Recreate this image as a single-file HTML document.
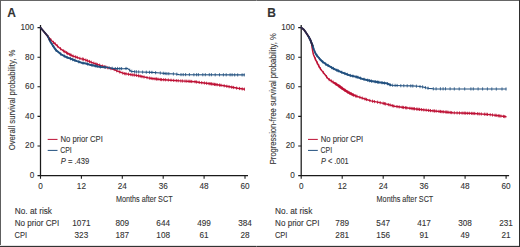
<!DOCTYPE html>
<html><head><meta charset="utf-8"><style>
html,body{margin:0;padding:0;background:#fff;}
body{width:520px;height:247px;overflow:hidden;position:relative;}
svg{position:absolute;left:0;top:0;}
text{font-family:"Liberation Sans",sans-serif;fill:#333333;stroke:#333;stroke-width:0.1px;}
</style></head><body>
<svg width="520" height="247" viewBox="0 0 520 247">
<rect x="0" y="0" width="520" height="247" fill="#fff"/>
<text x="7.3" y="17.2" font-size="12.00" text-anchor="start" font-weight="bold" font-style="normal" fill="#111" stroke="#111" stroke-width="0.35">A</text>
<path d="M40.5,25 V176.2 M39.9,175.6 H248.0" stroke="#1a1a1a" stroke-width="1.25" fill="none"/>
<text x="34.2" y="178.0" font-size="8.20" text-anchor="end" font-weight="normal" font-style="normal" >0</text>
<text x="34.2" y="148.4" font-size="8.20" text-anchor="end" font-weight="normal" font-style="normal" >20</text>
<text x="34.2" y="118.8" font-size="8.20" text-anchor="end" font-weight="normal" font-style="normal" >40</text>
<text x="34.2" y="89.2" font-size="8.20" text-anchor="end" font-weight="normal" font-style="normal" >60</text>
<text x="34.2" y="59.6" font-size="8.20" text-anchor="end" font-weight="normal" font-style="normal" >80</text>
<text x="34.2" y="30.0" font-size="8.20" text-anchor="end" font-weight="normal" font-style="normal" >100</text>
<text x="40.5" y="188.9" font-size="8.20" text-anchor="middle" font-weight="normal" font-style="normal" >0</text>
<text x="81.4" y="188.9" font-size="8.20" text-anchor="middle" font-weight="normal" font-style="normal" >12</text>
<text x="122.3" y="188.9" font-size="8.20" text-anchor="middle" font-weight="normal" font-style="normal" >24</text>
<text x="163.2" y="188.9" font-size="8.20" text-anchor="middle" font-weight="normal" font-style="normal" >36</text>
<text x="204.1" y="188.9" font-size="8.20" text-anchor="middle" font-weight="normal" font-style="normal" >48</text>
<text x="245.0" y="188.9" font-size="8.20" text-anchor="middle" font-weight="normal" font-style="normal" >60</text>
<path d="M37.5,175.6H40.5 M37.5,146.0H40.5 M37.5,116.4H40.5 M37.5,86.8H40.5 M37.5,57.2H40.5 M37.5,27.6H40.5 M40.5,175.6V178.8 M81.4,175.6V178.8 M122.3,175.6V178.8 M163.2,175.6V178.8 M204.1,175.6V178.8 M245.0,175.6V178.8" stroke="#1a1a1a" stroke-width="1.1" fill="none"/>
<text x="115.9" y="201.7" font-size="9.60" text-anchor="start" font-weight="normal" font-style="normal" textLength="56.7" lengthAdjust="spacingAndGlyphs" >Months after SCT</text>
<text transform="translate(15.2,150.3) rotate(-90)" font-size="9.6" textLength="100.7" lengthAdjust="spacingAndGlyphs">Overall survival probability, %</text>
<path d="M40.5,27.6 L43.8,31.5 L47.7,36.2 L51.7,40.8 L55.6,44.3 L59.5,48.0 L63.4,50.8 L67.0,53.0 L72.7,56.0 L77.0,57.4 L80.4,58.6 L84.0,59.4 L85.8,60.1 L89.7,61.6 L93.5,63.1 L97.4,64.5 L101.0,65.6 L106.7,67.4 L114.4,69.6 L118.0,71.3 L123.7,73.4 L131.4,74.7 L135.0,75.1 L140.7,76.3 L148.4,77.9 L152.0,78.5 L160.5,79.5 L171.0,80.2 L176.0,80.6 L184.5,81.1 L195.0,81.7 L200.0,82.5 L208.5,83.5 L219.0,85.0 L224.0,85.8 L232.5,87.3 L237.8,88.3 L244.8,89.3" stroke="#bd1034" stroke-width="1.45" fill="none" stroke-linejoin="round"/>
<path d="M48.5,35.5v3.2 M50.8,38.2v3.2 M53.5,40.8v3.2 M55.2,42.3v3.2 M57.4,44.4v3.2 M60.5,47.1v3.2 M63.6,49.3v3.2 M64.9,50.1v3.2 M66.5,51.1v3.2 M67.7,51.8v3.2 M69.8,52.9v3.2 M71.0,53.5v3.2 M73.1,54.5v3.2 M75.6,55.3v3.2 M77.3,55.9v3.2 M79.9,56.8v3.2 M82.3,57.4v3.2 M83.4,57.7v3.2 M85.8,58.5v3.2 M87.4,59.1v3.2 M89.5,59.9v3.2 M91.2,60.6v3.2 M93.8,61.6v3.2 M95.9,62.3v3.2 M97.3,62.9v3.2 M99.6,63.6v3.2 M102.4,64.5v3.2 M104.2,65.0v3.2 M105.8,65.5v3.2 M107.7,66.1v3.2 M110.9,67.0v3.2 M114.2,67.9v3.2 M116.7,69.1v3.2 M119.8,70.4v3.2 M122.8,71.5v3.2 M124.7,72.0v3.2 M126.0,72.2v3.2 M128.5,72.6v3.2 M130.9,73.0v3.2 M132.8,73.3v3.2 M134.4,73.4v3.2 M136.4,73.8v3.2 M138.5,74.2v3.2 M140.2,74.6v3.2 M141.9,75.0v3.2 M144.0,75.4v3.2 M147.0,76.0v3.2 M149.4,76.5v3.2 M151.1,76.8v3.2 M152.9,77.0v3.2 M155.0,77.2v3.2 M156.5,77.4v3.2 M158.0,77.6v3.2 M160.3,77.9v3.2 M161.6,78.0v3.2 M163.7,78.1v3.2 M165.6,78.2v3.2 M168.3,78.4v3.2 M171.0,78.6v3.2 M173.7,78.8v3.2 M176.3,79.0v3.2 M178.2,79.1v3.2 M180.8,79.3v3.2 M182.6,79.4v3.2 M185.0,79.5v3.2 M186.8,79.6v3.2 M188.9,79.7v3.2 M190.1,79.8v3.2 M191.7,79.9v3.2 M195.0,80.1v3.2 M196.6,80.4v3.2 M199.2,80.8v3.2 M201.7,81.1v3.2 M204.4,81.4v3.2 M206.6,81.7v3.2 M209.0,82.0v3.2 M210.2,82.1v3.2 M211.5,82.3v3.2 M213.0,82.5v3.2 M214.5,82.8v3.2 M215.8,82.9v3.2 M217.2,83.1v3.2 M219.5,83.5v3.2 M221.0,83.7v3.2 M224.2,84.2v3.2 M226.8,84.7v3.2 M229.1,85.1v3.2 M231.7,85.6v3.2 M233.4,85.9v3.2 M236.6,86.5v3.2 M239.5,86.9v3.2 M242.2,87.3v3.2 M244.4,87.6v3.2" stroke="#bd1034" stroke-width="0.9" fill="none" opacity="0.9"/>
<path d="M40.5,27.6 L43.8,31.5 L47.7,36.2 L49.5,39.8 L50.5,42.0 L52.0,44.3 L54.2,47.6 L56.0,50.2 L58.0,51.8 L61.3,54.5 L66.5,57.2 L71.8,59.2 L77.0,61.2 L82.0,62.9 L85.8,63.5 L89.7,64.7 L93.5,65.5 L97.4,66.4 L101.0,67.0 L106.7,67.4 L114.4,68.6 L118.0,68.5 L123.7,68.7 L127.5,68.4 L131.0,71.2 L135.0,71.7 L140.7,72.0 L152.0,72.4 L160.5,73.0 L165.8,73.6 L176.0,74.0 L179.0,74.6 L244.8,74.9" stroke="#22507f" stroke-width="1.15" fill="none" stroke-linejoin="round"/>
<path d="M49.5,39.8 L50.5,42.0 L52.0,44.3 L54.2,47.6 L56.0,50.2 L58.0,51.8 L61.3,54.5 L66.5,57.2 L71.8,59.2 L77.0,61.2 L82.0,62.9 L85.8,63.5 L89.7,64.7 L93.5,65.5 L97.4,66.4 L101.0,67.0 L106.7,67.4" stroke="#22507f" stroke-width="1.9" fill="none" stroke-linejoin="round"/>
<path d="M40.5,27.6 L43.8,31.5 L47.7,36.2 L49.5,39.8" stroke="#2a2848" stroke-width="1.9" fill="none" stroke-linejoin="round" stroke-linecap="round"/>
<path d="M48.5,36.2v3.2 M52.5,43.4v3.2 M56.2,48.8v3.2 M60.7,52.4v3.2 M64.3,54.5v3.2 M67.1,55.8v3.2 M70.5,57.1v3.2 M72.7,58.0v3.2 M74.9,58.8v3.2 M78.9,60.2v3.2 M83.0,61.5v3.2 M87.7,62.5v3.2 M92.0,63.6v3.2 M95.3,64.3v3.2 M97.2,64.8v3.2 M100.4,65.3v3.2 M105.0,65.7v3.2 M109.1,66.2v3.2 M112.2,66.7v3.2 M115.3,67.0v3.2 M117.6,66.9v3.2 M119.8,67.0v3.2 M121.6,67.0v3.2 M126.0,66.9v3.2 M129.7,68.6v3.2 M131.8,69.7v3.2 M134.7,70.1v3.2 M136.4,70.2v3.2 M138.7,70.3v3.2 M142.6,70.5v3.2 M146.3,70.6v3.2 M149.5,70.7v3.2 M151.9,70.8v3.2 M155.6,71.1v3.2 M160.3,71.4v3.2 M163.3,71.7v3.2 M165.1,71.9v3.2 M166.9,72.0v3.2 M168.8,72.1v3.2 M173.4,72.3v3.2 M176.8,72.6v3.2 M181.0,73.0v3.2 M183.2,73.0v3.2 M185.6,73.0v3.2 M189.4,73.0v3.2 M193.9,73.1v3.2 M196.6,73.1v3.2 M198.4,73.1v3.2 M202.8,73.1v3.2 M205.3,73.1v3.2 M209.3,73.1v3.2 M211.4,73.1v3.2 M215.2,73.2v3.2 M219.5,73.2v3.2 M223.4,73.2v3.2 M226.2,73.2v3.2 M230.1,73.2v3.2 M232.1,73.2v3.2 M234.7,73.3v3.2 M237.7,73.3v3.2 M242.1,73.3v3.2 M244.2,73.3v3.2" stroke="#22507f" stroke-width="0.9" fill="none" opacity="0.9"/>
<path d="M47.7,139.4h9.8" stroke="#bd1034" stroke-width="1"/>
<path d="M47.7,150.4h9.8" stroke="#22507f" stroke-width="1"/>
<text x="60.5" y="141.6" font-size="8.50" text-anchor="start" font-weight="normal" font-style="normal" textLength="42.4" lengthAdjust="spacingAndGlyphs" >No prior CPI</text>
<text x="60.2" y="153.0" font-size="8.50" text-anchor="start" font-weight="normal" font-style="normal" textLength="11.6" lengthAdjust="spacingAndGlyphs" >CPI</text>
<text x="60.7" y="164.0" font-size="8.5" textLength="28.6" lengthAdjust="spacingAndGlyphs"><tspan font-style="italic">P</tspan> = .439</text>
<text x="14.8" y="214.3" font-size="8.50" text-anchor="start" font-weight="normal" font-style="normal" textLength="37.2" lengthAdjust="spacingAndGlyphs" >No. at risk</text>
<text x="14.8" y="226.4" font-size="8.50" text-anchor="start" font-weight="normal" font-style="normal" textLength="44.4" lengthAdjust="spacingAndGlyphs" >No prior CPI</text>
<text x="14.6" y="238.4" font-size="8.50" text-anchor="start" font-weight="normal" font-style="normal" textLength="12.5" lengthAdjust="spacingAndGlyphs" >CPI</text>
<text x="81.4" y="226.4" font-size="8.20" text-anchor="middle" font-weight="normal" font-style="normal" >1071</text>
<text x="81.4" y="238.4" font-size="8.20" text-anchor="middle" font-weight="normal" font-style="normal" >323</text>
<text x="122.3" y="226.4" font-size="8.20" text-anchor="middle" font-weight="normal" font-style="normal" >809</text>
<text x="122.3" y="238.4" font-size="8.20" text-anchor="middle" font-weight="normal" font-style="normal" >187</text>
<text x="163.2" y="226.4" font-size="8.20" text-anchor="middle" font-weight="normal" font-style="normal" >644</text>
<text x="163.2" y="238.4" font-size="8.20" text-anchor="middle" font-weight="normal" font-style="normal" >108</text>
<text x="204.1" y="226.4" font-size="8.20" text-anchor="middle" font-weight="normal" font-style="normal" >499</text>
<text x="204.1" y="238.4" font-size="8.20" text-anchor="middle" font-weight="normal" font-style="normal" >61</text>
<text x="245.0" y="226.4" font-size="8.20" text-anchor="middle" font-weight="normal" font-style="normal" >384</text>
<text x="245.0" y="238.4" font-size="8.20" text-anchor="middle" font-weight="normal" font-style="normal" >28</text>
<text x="267.3" y="17.2" font-size="12.00" text-anchor="start" font-weight="bold" font-style="normal" fill="#111" stroke="#111" stroke-width="0.35">B</text>
<path d="M301.2,25 V176.2 M300.6,175.6 H509.1" stroke="#1a1a1a" stroke-width="1.25" fill="none"/>
<text x="294.9" y="178.0" font-size="8.20" text-anchor="end" font-weight="normal" font-style="normal" >0</text>
<text x="294.9" y="148.4" font-size="8.20" text-anchor="end" font-weight="normal" font-style="normal" >20</text>
<text x="294.9" y="118.8" font-size="8.20" text-anchor="end" font-weight="normal" font-style="normal" >40</text>
<text x="294.9" y="89.2" font-size="8.20" text-anchor="end" font-weight="normal" font-style="normal" >60</text>
<text x="294.9" y="59.6" font-size="8.20" text-anchor="end" font-weight="normal" font-style="normal" >80</text>
<text x="294.9" y="30.0" font-size="8.20" text-anchor="end" font-weight="normal" font-style="normal" >100</text>
<text x="301.2" y="188.9" font-size="8.20" text-anchor="middle" font-weight="normal" font-style="normal" >0</text>
<text x="342.2" y="188.9" font-size="8.20" text-anchor="middle" font-weight="normal" font-style="normal" >12</text>
<text x="383.2" y="188.9" font-size="8.20" text-anchor="middle" font-weight="normal" font-style="normal" >24</text>
<text x="424.1" y="188.9" font-size="8.20" text-anchor="middle" font-weight="normal" font-style="normal" >36</text>
<text x="465.1" y="188.9" font-size="8.20" text-anchor="middle" font-weight="normal" font-style="normal" >48</text>
<text x="506.1" y="188.9" font-size="8.20" text-anchor="middle" font-weight="normal" font-style="normal" >60</text>
<path d="M298.2,175.6H301.2 M298.2,146.0H301.2 M298.2,116.4H301.2 M298.2,86.8H301.2 M298.2,57.2H301.2 M298.2,27.6H301.2 M301.2,175.6V178.8 M342.2,175.6V178.8 M383.2,175.6V178.8 M424.1,175.6V178.8 M465.1,175.6V178.8 M506.1,175.6V178.8" stroke="#1a1a1a" stroke-width="1.1" fill="none"/>
<text x="376.6" y="201.7" font-size="9.60" text-anchor="start" font-weight="normal" font-style="normal" textLength="56.7" lengthAdjust="spacingAndGlyphs" >Months after SCT</text>
<text transform="translate(276.0,164.2) rotate(-90)" font-size="9.6" textLength="130.9" lengthAdjust="spacingAndGlyphs">Progression-free survival probability, %</text>
<path d="M301.2,27.6 L303.8,29.5 L306.2,32.9 L307.7,35.2 L310.0,39.1 L311.1,41.8 L311.9,45.5 L312.5,50.0 L313.4,54.5 L315.5,59.4 L317.6,63.6 L319.8,67.8 L322.0,70.9 L325.7,75.5 L327.5,78.0 L329.2,79.6 L333.9,82.6 L338.6,85.7 L343.4,89.2 L348.1,92.3 L354.4,95.5 L360.8,97.6 L365.0,99.0 L370.9,100.9 L378.8,102.4 L386.7,104.1 L394.6,106.3 L402.0,107.3 L415.8,109.0 L431.6,110.7 L437.0,111.2 L452.8,112.7 L468.6,113.3 L474.0,113.5 L489.8,114.6 L506.5,116.8" stroke="#bd1034" stroke-width="1.45" fill="none" stroke-linejoin="round"/>
<path d="M309.2,36.1v3.2 M312.1,45.1v3.2 M315.3,57.3v3.2 M317.2,61.2v3.2 M318.8,64.2v3.2 M320.4,67.0v3.2 M323.3,70.9v3.2 M326.5,75.1v3.2 M329.2,78.0v3.2 M331.3,79.4v3.2 M333.1,80.5v3.2 M336.0,82.4v3.2 M339.0,84.4v3.2 M340.3,85.4v3.2 M341.9,86.5v3.2 M344.8,88.5v3.2 M347.8,90.5v3.2 M349.6,91.5v3.2 M351.3,92.3v3.2 M353.3,93.4v3.2 M355.6,94.3v3.2 M356.9,94.7v3.2 M359.9,95.7v3.2 M362.2,96.5v3.2 M365.0,97.4v3.2 M366.6,97.9v3.2 M369.8,98.9v3.2 M372.5,99.6v3.2 M374.4,100.0v3.2 M377.6,100.6v3.2 M380.2,101.1v3.2 M383.2,101.7v3.2 M384.4,102.0v3.2 M385.6,102.3v3.2 M388.3,103.0v3.2 M390.1,103.4v3.2 M392.3,104.1v3.2 M393.8,104.5v3.2 M397.0,105.0v3.2 M399.2,105.3v3.2 M402.2,105.7v3.2 M403.4,105.9v3.2 M405.6,106.1v3.2 M406.8,106.3v3.2 M409.9,106.7v3.2 M411.9,106.9v3.2 M413.2,107.1v3.2 M414.5,107.2v3.2 M416.7,107.5v3.2 M418.0,107.6v3.2 M419.5,107.8v3.2 M421.6,108.0v3.2 M423.8,108.3v3.2 M426.2,108.5v3.2 M428.6,108.8v3.2 M430.5,109.0v3.2 M433.0,109.2v3.2 M434.5,109.4v3.2 M436.2,109.5v3.2 M439.0,109.8v3.2 M440.5,109.9v3.2 M442.0,110.1v3.2 M443.7,110.2v3.2 M445.8,110.4v3.2 M446.9,110.5v3.2 M448.1,110.7v3.2 M450.2,110.9v3.2 M451.7,111.0v3.2 M454.3,111.2v3.2 M457.1,111.3v3.2 M459.5,111.4v3.2 M462.1,111.5v3.2 M464.1,111.5v3.2 M465.3,111.6v3.2 M467.3,111.7v3.2 M469.3,111.7v3.2 M471.7,111.8v3.2 M473.1,111.9v3.2 M474.7,111.9v3.2 M477.6,112.1v3.2 M479.2,112.3v3.2 M481.3,112.4v3.2 M484.4,112.6v3.2 M486.1,112.7v3.2 M487.5,112.8v3.2 M490.2,113.1v3.2 M492.5,113.4v3.2 M495.0,113.7v3.2 M496.2,113.8v3.2 M498.2,114.1v3.2 M499.3,114.3v3.2 M500.9,114.5v3.2 M503.6,114.8v3.2 M504.8,115.0v3.2" stroke="#bd1034" stroke-width="0.9" fill="none" opacity="0.9"/>
<path d="M333.9,82.6 L338.6,85.7 L343.4,89.2 L348.1,92.3 L354.4,95.5" stroke="#bd1034" stroke-width="2.3" fill="none" stroke-linejoin="round"/>
<path d="M301.2,27.6 L303.8,29.5 L306.2,32.9 L307.7,35.2 L310.0,39.1 L311.1,41.8 L312.6,45.7 L313.9,49.5 L315.3,53.0 L316.6,55.2 L319.8,59.0 L322.2,61.5 L325.7,64.1 L328.8,65.9 L332.0,67.8 L335.5,69.6 L341.8,72.3 L349.7,75.3 L357.6,77.2 L362.3,78.9 L370.9,81.0 L378.8,82.3 L386.7,83.4 L391.4,85.3 L402.0,85.7 L412.0,85.9 L418.0,86.3 L423.0,87.0 L426.0,87.8 L429.0,88.4 L433.0,88.8 L506.4,89.0" stroke="#22507f" stroke-width="1.15" fill="none" stroke-linejoin="round"/>
<path d="M310.0,39.1 L311.1,41.8 L312.6,45.7 L313.9,49.5 L315.3,53.0 L316.6,55.2 L319.8,59.0 L322.2,61.5 L325.7,64.1 L328.8,65.9 L332.0,67.8 L335.5,69.6 L341.8,72.3 L349.7,75.3 L357.6,77.2 L362.3,78.9 L370.9,81.0 L378.8,82.3 L386.7,83.4 L391.4,85.3" stroke="#22507f" stroke-width="1.9" fill="none" stroke-linejoin="round"/>
<path d="M301.2,27.6 L303.8,29.5 L306.2,32.9 L307.7,35.2 L310.0,39.1 L311.1,41.8 L312.6,45.7" stroke="#2a2848" stroke-width="1.9" fill="none" stroke-linejoin="round" stroke-linecap="round"/>
<path d="M309.2,36.1v3.2 M313.1,45.5v3.2 M316.9,53.9v3.2 M319.4,57.0v3.2 M322.7,60.2v3.2 M325.6,62.4v3.2 M328.1,63.9v3.2 M331.6,66.0v3.2 M333.4,66.9v3.2 M336.8,68.6v3.2 M338.3,69.2v3.2 M341.8,70.7v3.2 M344.9,71.9v3.2 M347.3,72.8v3.2 M350.4,73.9v3.2 M352.9,74.5v3.2 M356.2,75.3v3.2 M357.8,75.7v3.2 M360.4,76.6v3.2 M364.0,77.7v3.2 M367.7,78.6v3.2 M369.6,79.1v3.2 M371.5,79.5v3.2 M375.2,80.1v3.2 M377.4,80.5v3.2 M378.8,80.7v3.2 M382.0,81.1v3.2 M384.4,81.5v3.2 M387.6,82.1v3.2 M390.1,83.2v3.2 M392.7,83.7v3.2 M395.1,83.8v3.2 M397.1,83.9v3.2 M400.8,84.1v3.2 M403.8,84.1v3.2 M407.2,84.2v3.2 M410.8,84.3v3.2 M412.8,84.4v3.2 M416.4,84.6v3.2 M420.0,85.0v3.2 M422.6,85.3v3.2 M425.4,86.0v3.2 M428.0,86.6v3.2 M433.3,87.2v3.2 M436.1,87.2v3.2 M440.4,87.2v3.2 M443.1,87.2v3.2 M445.5,87.2v3.2 M450.1,87.2v3.2 M454.3,87.3v3.2 M459.2,87.3v3.2 M464.7,87.3v3.2 M470.9,87.3v3.2 M473.3,87.3v3.2 M478.1,87.3v3.2 M482.6,87.3v3.2 M487.4,87.3v3.2 M491.8,87.4v3.2 M496.3,87.4v3.2 M502.0,87.4v3.2 M506.0,87.4v3.2" stroke="#22507f" stroke-width="0.9" fill="none" opacity="0.9"/>
<path d="M308.0,139.4h9.8" stroke="#bd1034" stroke-width="1"/>
<path d="M308.0,150.4h9.8" stroke="#22507f" stroke-width="1"/>
<text x="320.8" y="141.6" font-size="8.50" text-anchor="start" font-weight="normal" font-style="normal" textLength="42.4" lengthAdjust="spacingAndGlyphs" >No prior CPI</text>
<text x="320.5" y="153.0" font-size="8.50" text-anchor="start" font-weight="normal" font-style="normal" textLength="11.6" lengthAdjust="spacingAndGlyphs" >CPI</text>
<text x="321.0" y="164.0" font-size="8.5" textLength="27.6" lengthAdjust="spacingAndGlyphs"><tspan font-style="italic">P</tspan> &lt; .001</text>
<text x="275.1" y="214.3" font-size="8.50" text-anchor="start" font-weight="normal" font-style="normal" textLength="37.2" lengthAdjust="spacingAndGlyphs" >No. at risk</text>
<text x="275.1" y="226.4" font-size="8.50" text-anchor="start" font-weight="normal" font-style="normal" textLength="44.4" lengthAdjust="spacingAndGlyphs" >No prior CPI</text>
<text x="274.9" y="238.4" font-size="8.50" text-anchor="start" font-weight="normal" font-style="normal" textLength="12.5" lengthAdjust="spacingAndGlyphs" >CPI</text>
<text x="342.2" y="226.4" font-size="8.20" text-anchor="middle" font-weight="normal" font-style="normal" >789</text>
<text x="342.2" y="238.4" font-size="8.20" text-anchor="middle" font-weight="normal" font-style="normal" >281</text>
<text x="383.2" y="226.4" font-size="8.20" text-anchor="middle" font-weight="normal" font-style="normal" >547</text>
<text x="383.2" y="238.4" font-size="8.20" text-anchor="middle" font-weight="normal" font-style="normal" >156</text>
<text x="424.1" y="226.4" font-size="8.20" text-anchor="middle" font-weight="normal" font-style="normal" >417</text>
<text x="424.1" y="238.4" font-size="8.20" text-anchor="middle" font-weight="normal" font-style="normal" >91</text>
<text x="465.1" y="226.4" font-size="8.20" text-anchor="middle" font-weight="normal" font-style="normal" >308</text>
<text x="465.1" y="238.4" font-size="8.20" text-anchor="middle" font-weight="normal" font-style="normal" >49</text>
<text x="506.1" y="226.4" font-size="8.20" text-anchor="middle" font-weight="normal" font-style="normal" >231</text>
<text x="506.1" y="238.4" font-size="8.20" text-anchor="middle" font-weight="normal" font-style="normal" >21</text>
<path d="M0,0.5H520" stroke="#666" stroke-width="1"/><path d="M0.5,0V247" stroke="#5e5e5e" stroke-width="1"/><path d="M0,245.5H520" stroke="#e2e2e2" stroke-width="1"/><path d="M0,246.5H520" stroke="#333" stroke-width="1"/><path d="M519.5,0V247" stroke="#2e2e2e" stroke-width="1"/>
</svg>
</body></html>
